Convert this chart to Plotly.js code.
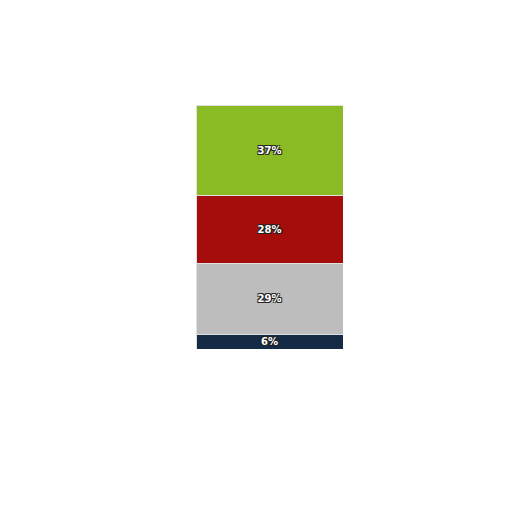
<!DOCTYPE html>
<html>
<head>
<meta charset="utf-8">
<script src="https://cdn.plot.ly/plotly-3.0.1.min.js"></script>
<style>
  html, body { margin: 0; padding: 0; background: #fff; }
  #chart { width: 512px; height: 512px; }
</style>
</head>
<body>
<div id="chart"></div>
<script>
// segments from bottom to top
var category = ['Total'];
var segmentNames = ['D', 'C', 'B', 'A'];
var segmentValues = [6, 29, 28, 37];
var segmentColors = ['#142a45', '#bdbdbd', '#a50d0d', '#8aba24'];

var data = [];
for (var i = 0; i < segmentNames.length; i++) {
    data.push({
        x: category,
        y: [segmentValues[i]],
        name: segmentNames[i],
        type: 'bar',
        width: 1,
        marker: {color: segmentColors[i], line: {color: '#e0e0e0', width: 1}},
        text: [segmentValues[i] + '%'],
        textposition: 'inside',
        insidetextanchor: 'middle',
        textangle: 0,
        textfont: {color: 'white', size: 10, family: 'DejaVu Sans', weight: 'bold',
                   shadow: '-1px -1px 0 #222, 1px -1px 0 #222, -1px 1px 0 #222, 1px 1px 0 #222'},
        hoverinfo: 'skip'
    });
}

var layout = {
    barmode: 'stack',
    showlegend: false,
    width: 512,
    height: 512,
    margin: {l: 196, r: 169, t: 105, b: 163},
    paper_bgcolor: '#ffffff',
    plot_bgcolor: '#ffffff',
    xaxis: {visible: false, range: [-0.5, 0.5]},
    yaxis: {visible: false, range: [0, 100]},
    uniformtext: {minsize: 10, mode: 'show'}
};

Plotly.newPlot('chart', data, layout, {displayModeBar: false, staticPlot: true});
</script>
</body>
</html>
